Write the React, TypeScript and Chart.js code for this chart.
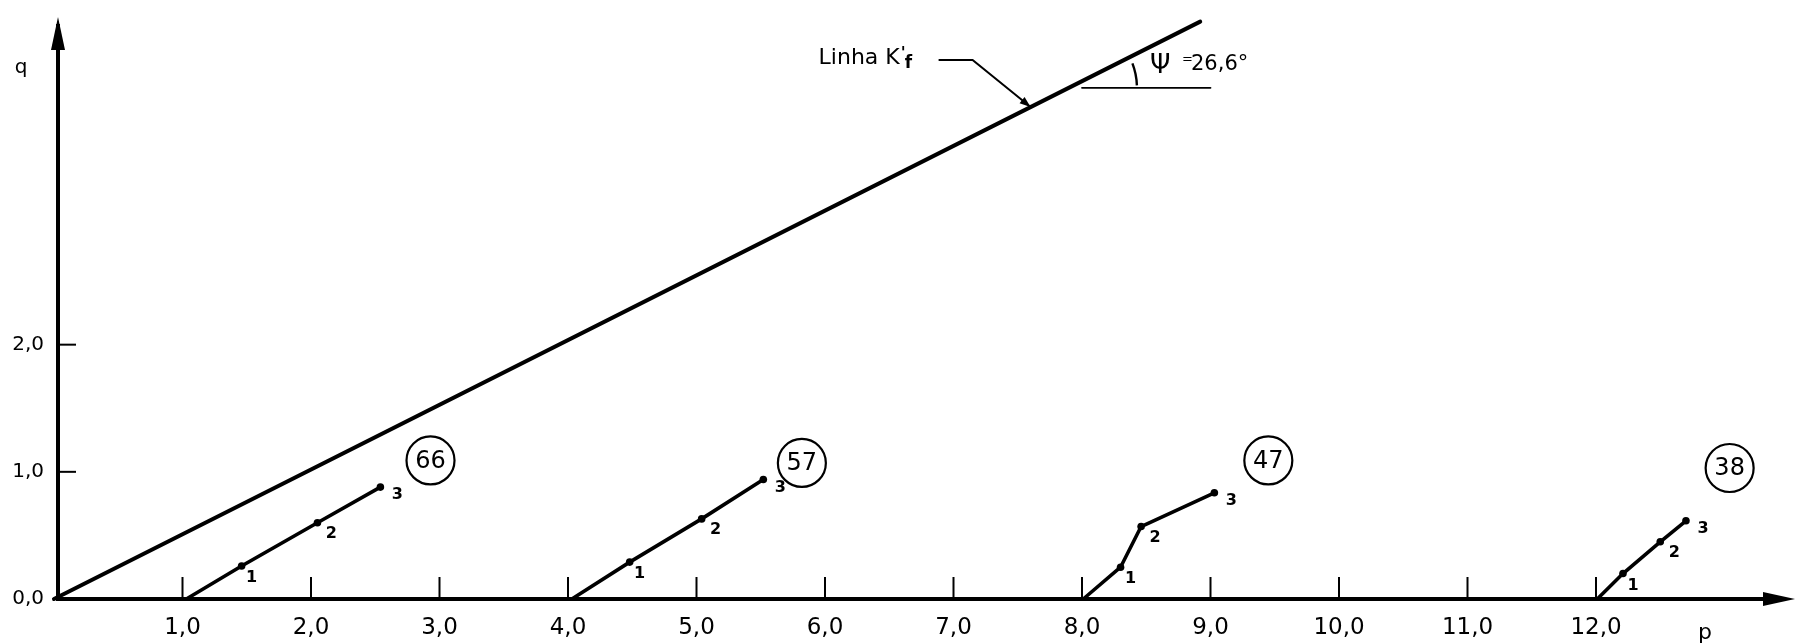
import React, { useEffect, useRef } from 'react';
import { Chart, registerables } from 'chart.js';

Chart.register(...registerables);

// ---------- data ----------
const X_TICKS = [1, 2, 3, 4, 5, 6, 7, 8, 9, 10, 11, 12];
const X_TICK_LABELS = ['1,0', '2,0', '3,0', '4,0', '5,0', '6,0', '7,0', '8,0', '9,0', '10,0', '11,0', '12,0'];
const Y_TICKS = [0, 1, 2];
const Y_TICK_LABELS = ['0,0', '1,0', '2,0'];

// Linha K'f (failure line)
const KF_P = [0, 8.92];
const KF_Q = [0, 4.54];
// horizontal reference for the angle
const REF_P = [8.0, 9.0];
const REF_Q = [4.02, 4.02];

// stress paths
const S66_P = [1.03, 1.46, 2.05, 2.54];
const S66_Q = [0, 0.26, 0.6, 0.88];
const S57_P = [4.03, 4.48, 5.04, 5.52];
const S57_Q = [0, 0.29, 0.63, 0.94];
const S47_P = [8.01, 8.3, 8.46, 9.03];
const S47_Q = [0, 0.25, 0.57, 0.835];
const S38_P = [12.01, 12.21, 12.5, 12.7];
const S38_Q = [0, 0.2, 0.45, 0.615];

const SERIES_NAMES = ['66', '57', '47', '38'];
const POINT_NAMES = ['', '1', '2', '3'];
const NAME_P = [2.93, 5.82, 9.45, 13.04];
const NAME_Q = [1.09, 1.07, 1.09, 1.03];

const KF_ARROW_P = 7.6;
const KF_LABEL = 'Linha K';
const PSI_LABEL = 'Ψ';
const ANGLE_LABEL = '26,6°';
const X_TITLE = 'p';
const Y_TITLE = 'q';

const FONT = "'DejaVu Sans', sans-serif";

const SERIES_P = [S66_P, S57_P, S47_P, S38_P];
const SERIES_Q = [S66_Q, S57_Q, S47_Q, S38_Q];

const pts = (P: number[], Q: number[]) => P.map((p, i) => ({ x: p, y: Q[i] }));

const overlay = {
  id: 'overlay',
  afterDraw(chart: any) {
    const ctx: CanvasRenderingContext2D = chart.ctx;
    const xs = chart.scales.x;
    const ys = chart.scales.y;
    const a = chart.chartArea;
    ctx.save();
    ctx.strokeStyle = '#000';
    ctx.fillStyle = '#000';
    ctx.lineCap = 'butt';

    // inner tick marks
    ctx.lineWidth = 2;
    X_TICKS.forEach((v) => {
      const px = xs.getPixelForValue(v);
      ctx.beginPath();
      ctx.moveTo(px, a.bottom);
      ctx.lineTo(px, a.bottom - 22);
      ctx.stroke();
    });
    Y_TICKS.forEach((v) => {
      if (v === 0) return;
      const py = ys.getPixelForValue(v);
      ctx.beginPath();
      ctx.moveTo(a.left, py);
      ctx.lineTo(a.left + 18, py);
      ctx.stroke();
    });

    // arrow heads on axes
    ctx.beginPath();
    ctx.moveTo(a.left, a.top - 9);
    ctx.lineTo(a.left - 7, a.top + 24);
    ctx.lineTo(a.left + 7, a.top + 24);
    ctx.closePath();
    ctx.fill();
    ctx.beginPath();
    ctx.moveTo(a.right + 10, a.bottom);
    ctx.lineTo(a.right - 22, a.bottom - 7);
    ctx.lineTo(a.right - 22, a.bottom + 7);
    ctx.closePath();
    ctx.fill();

    // axis titles
    ctx.textAlign = 'center';
    ctx.textBaseline = 'middle';
    ctx.font = `20px ${FONT}`;
    ctx.fillText(Y_TITLE, a.left - 37, a.top + 42);
    ctx.font = `22px ${FONT}`;
    ctx.fillText(X_TITLE, a.right - 80, a.bottom + 34);

    // circled series names
    SERIES_NAMES.forEach((name, i) => {
      const cx = xs.getPixelForValue(NAME_P[i]);
      const cy = ys.getPixelForValue(NAME_Q[i]);
      ctx.lineWidth = 2.2;
      ctx.beginPath();
      ctx.arc(cx, cy, 24, 0, Math.PI * 2);
      ctx.stroke();
      ctx.font = `24px ${FONT}`;
      ctx.fillText(name, cx, cy + 1);
    });

    // point numbers
    const offs = [
      [0, 0],
      [10, 12],
      [14, 11],
      [17, 8],
    ];
    ctx.font = `bold 16px ${FONT}`;
    SERIES_P.forEach((P, s) => {
      P.forEach((p, i) => {
        if (!POINT_NAMES[i]) return;
        const px = xs.getPixelForValue(p);
        const py = ys.getPixelForValue(SERIES_Q[s][i]);
        ctx.fillText(POINT_NAMES[i], px + offs[i][0], py + offs[i][1]);
      });
    });

    // Linha K'f annotation with leader
    const slope = KF_Q[1] / KF_P[1];
    const tx = xs.getPixelForValue(KF_ARROW_P);
    const ty = ys.getPixelForValue(slope * KF_ARROW_P);
    const ex = tx - 58;
    const ey = ty - 47;
    ctx.lineWidth = 2;
    ctx.beginPath();
    ctx.moveTo(tx - 92, ey);
    ctx.lineTo(ex, ey);
    ctx.lineTo(tx, ty);
    ctx.stroke();
    const ang = Math.atan2(ty - ey, tx - ex);
    ctx.beginPath();
    ctx.moveTo(tx, ty);
    ctx.lineTo(tx - 11 * Math.cos(ang) + 4 * Math.sin(ang), ty - 11 * Math.sin(ang) - 4 * Math.cos(ang));
    ctx.lineTo(tx - 11 * Math.cos(ang) - 4 * Math.sin(ang), ty - 11 * Math.sin(ang) + 4 * Math.cos(ang));
    ctx.closePath();
    ctx.fill();

    ctx.textAlign = 'left';
    ctx.textBaseline = 'alphabetic';
    ctx.font = `22px ${FONT}`;
    const lx = tx - 212;
    const lb = ty - 43;
    ctx.fillText(KF_LABEL, lx, lb);
    const w = ctx.measureText(KF_LABEL).width;
    ctx.font = `bold 16px ${FONT}`;
    ctx.fillText("'", lx + w + 1, lb - 6);
    ctx.font = `bold 17px ${FONT}`;
    ctx.fillText('f', lx + w + 5, lb + 4);

    // angle psi
    const ry = ys.getPixelForValue(REF_Q[0]);
    const ix = xs.getPixelForValue(REF_Q[0] / slope);
    const sx = xs.getPixelForValue(REF_P[0]);
    ctx.lineWidth = 2.4;
    ctx.beginPath();
    ctx.arc(ix, ry, 68, (-21 * Math.PI) / 180, (-2 * Math.PI) / 180);
    ctx.stroke();
    ctx.font = `26px ${FONT}`;
    ctx.fillText(PSI_LABEL, sx + 68, ry - 15);
    ctx.font = `13px ${FONT}`;
    ctx.fillText('=', sx + 100, ry - 25);
    ctx.font = `21px ${FONT}`;
    ctx.fillText(ANGLE_LABEL, sx + 109, ry - 18);

    ctx.restore();
  },
};

const LEFT = 58;
const X0 = 54; // pixel where p = 0 falls (just left of the drawn axis)
const UNIT = 128.5;

export default function App() {
  const ref = useRef<HTMLCanvasElement | null>(null);

  useEffect(() => {
    const canvas = ref.current;
    if (!canvas) return;
    const line = (P: number[], Q: number[], width: number, markers: boolean) => ({
      data: pts(P, Q),
      showLine: true,
      borderColor: '#000',
      backgroundColor: '#000',
      borderWidth: width,
      tension: 0,
      borderCapStyle: 'round',
      pointRadius: markers ? P.map((_, i) => (i === 0 ? 0 : 3.8)) : 0,
      pointBackgroundColor: '#000',
      pointBorderWidth: 0,
      pointHoverRadius: 0,
      clip: false,
    });
    const xMin = (LEFT - X0) / UNIT;
    const chart = new Chart(canvas, {
      type: 'scatter',
      data: {
        datasets: [
          line(KF_P, KF_Q, 4, false),
          line(REF_P, REF_Q, 1.8, false),
          ...SERIES_P.map((P, i) => line(P, SERIES_Q[i], 3.6, true)),
        ] as any,
      },
      options: {
        animation: false,
        responsive: false,
        maintainAspectRatio: false,
        layout: { padding: { top: 20, right: 10, left: 0, bottom: 0 } },
        plugins: { legend: { display: false }, tooltip: { enabled: false } },
        events: [],
        scales: {
          x: {
            type: 'linear',
            min: xMin,
            max: xMin + (1785 - LEFT) / UNIT,
            afterFit: (s: any) => {
              s.height = 45;
            },
            afterBuildTicks: (s: any) => {
              s.ticks = X_TICKS.map((v) => ({ value: v }));
            },
            ticks: {
              autoSkip: false,
              maxRotation: 0,
              padding: 15,
              color: '#000',
              font: { family: FONT, size: 23 },
              callback: (v: any) => {
                const i = X_TICKS.indexOf(Number(v));
                return i >= 0 ? X_TICK_LABELS[i] : '';
              },
            },
            grid: { display: false, drawTicks: false },
            border: { display: true, width: 4, color: '#000' },
          },
          y: {
            type: 'linear',
            min: 0,
            max: (599 - 20) / UNIT,
            afterFit: (s: any) => {
              s.width = LEFT;
            },
            afterBuildTicks: (s: any) => {
              s.ticks = Y_TICKS.map((v) => ({ value: v }));
            },
            ticks: {
              autoSkip: false,
              padding: 14,
              color: '#000',
              font: { family: FONT, size: 20 },
              callback: (v: any) => {
                const i = Y_TICKS.indexOf(Number(v));
                return i >= 0 ? Y_TICK_LABELS[i] : '';
              },
            },
            grid: { display: false, drawTicks: false },
            border: { display: true, width: 4, color: '#000' },
          },
        },
      } as any,
      plugins: [overlay],
    });
    return () => chart.destroy();
  }, []);

  return (
    <div style={{ position: 'absolute', left: 0, top: 0, width: 1795, height: 644, background: '#fff' }}>
      <canvas ref={ref} width={1795} height={644} style={{ display: 'block', width: 1795, height: 644 }} />
    </div>
  );
}
